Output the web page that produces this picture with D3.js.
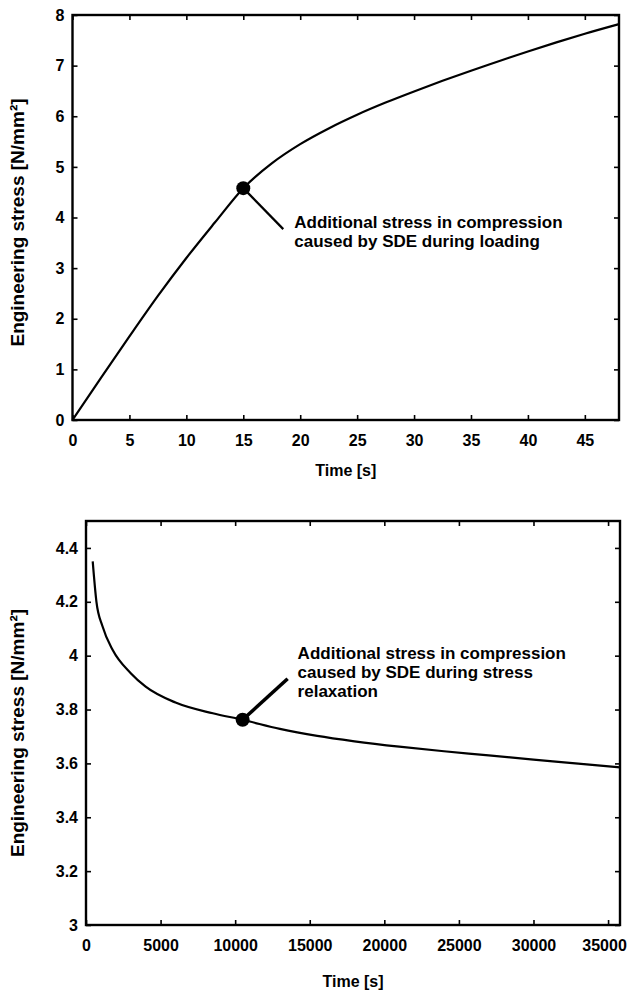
<!DOCTYPE html>
<html>
<head>
<meta charset="utf-8">
<script src="https://cdn.jsdelivr.net/npm/d3@7"></script>
<style>
  body { margin: 0; background: #fff; }
  svg text { font-family: "Liberation Sans", Arial, sans-serif; font-weight: bold; fill: #000; }
</style>
</head>
<body>
<svg id="chart" width="628" height="998"></svg>
<script>
// loading phase (top panel)
const loadTime = [0, 2.5, 5, 7.5, 10, 12.5, 15, 17.5, 20, 22.5, 25, 27.5, 30, 32.5, 35, 37.5, 40, 42.5, 45, 48];
const loadStress = [0, 0.83, 1.65, 2.45, 3.2, 3.9, 4.58, 5.07, 5.45, 5.76, 6.03, 6.27, 6.49, 6.7, 6.9, 7.09, 7.28, 7.46, 7.63, 7.82];
const loadXTicks = [0, 5, 10, 15, 20, 25, 30, 35, 40, 45];
const loadYTicks = [0, 1, 2, 3, 4, 5, 6, 7, 8];
const loadMarker = [15, 4.58];
const loadNote = ["Additional stress in compression", "caused by SDE during loading"];

// relaxation phase (bottom panel)
const relaxTime = [450, 700, 1100, 1800, 3000, 4000, 6000, 8500, 10500, 13000, 15500, 18000, 21000, 24000, 27000, 30000, 33000, 35800];
const relaxStress = [4.35, 4.20, 4.11, 4.02, 3.935, 3.885, 3.826, 3.786, 3.762, 3.728, 3.702, 3.682, 3.662, 3.645, 3.630, 3.614, 3.599, 3.585];
const relaxXTicks = [0, 5000, 10000, 15000, 20000, 25000, 30000, 35000];
const relaxYTicks = [3, 3.2, 3.4, 3.6, 3.8, 4, 4.2, 4.4];
const relaxMarker = [10500, 3.762];
const relaxNote = ["Additional stress in compression", "caused by SDE during stress", "relaxation"];

const svg = d3.select("#chart");

function panel(opt) {
  const x = d3.scaleLinear().domain(opt.xDomain).range([opt.left, opt.right]);
  const y = d3.scaleLinear().domain(opt.yDomain).range([opt.bottom, opt.top]);
  const g = svg.append("g");
  const tick = 5;

  // axes with inward ticks, mirrored on top/right
  const ax = (gen, tr, vals, fmt, pad) => {
    const a = g.append("g").attr("transform", tr)
      .call(gen.tickValues(vals).tickSize(-tick).tickSizeOuter(0)
        .tickPadding(pad).tickFormat(fmt || ""));
    a.select(".domain").remove();
    a.selectAll("line").attr("stroke", "#000").attr("stroke-width", 1.6);
    a.selectAll("text").style("font-size", "16px");
    return a;
  };
  const xa = ax(d3.axisBottom(x), `translate(0,${opt.bottom})`, opt.xTicks, d3.format("d"), 15);
  ax(d3.axisTop(x), `translate(0,${opt.top})`, opt.xTicks, null, 0);
  ax(d3.axisLeft(y), `translate(${opt.left},0)`, opt.yTicks, v => String(v), 8);
  ax(d3.axisRight(y), `translate(${opt.right},0)`, opt.yTicks, null, 0);
  // last label sits against the page edge
  xa.selectAll(".tick text").filter(d => x(d) > 600).attr("dx", -4);

  g.append("rect")
    .attr("x", opt.left).attr("y", opt.top)
    .attr("width", opt.right - opt.left).attr("height", opt.bottom - opt.top)
    .attr("fill", "none").attr("stroke", "#000").attr("stroke-width", 2.4);

  const line = d3.line().x(d => x(d[0])).y(d => y(d[1])).curve(d3.curveMonotoneX);
  g.append("path")
    .datum(d3.zip(opt.xs, opt.ys))
    .attr("d", line)
    .attr("fill", "none").attr("stroke", "#000").attr("stroke-width", 2.2);

  // annotation marker, leader and text
  const mx = x(opt.marker[0]), my = y(opt.marker[1]);
  g.append("line")
    .attr("x1", mx).attr("y1", my)
    .attr("x2", mx + opt.leader[0]).attr("y2", my + opt.leader[1])
    .attr("stroke", "#000").attr("stroke-width", opt.leaderWidth);
  g.append("circle").attr("cx", mx).attr("cy", my).attr("r", 7).attr("fill", "#000");
  g.append("text")
    .attr("x", mx + opt.textAt[0]).attr("y", my + opt.textAt[1])
    .style("font-size", "17px")
    .selectAll("tspan").data(opt.note).join("tspan")
      .attr("x", mx + opt.textAt[0])
      .attr("dy", (d, i) => i ? 19 : 0)
      .text(d => d);

  g.append("text")
    .attr("x", (opt.left + opt.right) / 2).attr("y", opt.bottom + opt.titleGap)
    .attr("text-anchor", "middle").style("font-size", "16px")
    .text("Time [s]");
  g.append("text")
    .attr("transform", `translate(24,${(opt.top + opt.bottom) / 2 + opt.labelShift}) rotate(-90)`)
    .attr("text-anchor", "middle").style("font-size", "19px")
    .text("Engineering stress [N/mm²]");
}

panel({
  xDomain: [0, 48], yDomain: [0, 8],
  left: 72.5, right: 619, top: 15, bottom: 420,
  xTicks: loadXTicks, yTicks: loadYTicks,
  xs: loadTime, ys: loadStress,
  marker: loadMarker, leader: [40, 41], leaderWidth: 2.2,
  textAt: [51, 40], note: loadNote, titleGap: 56, labelShift: 5
});

panel({
  xDomain: [0, 35800], yDomain: [3, 4.5],
  left: 86, right: 620, top: 521, bottom: 925,
  xTicks: relaxXTicks, yTicks: relaxYTicks,
  xs: relaxTime, ys: relaxStress,
  marker: relaxMarker, leader: [45, -41], leaderWidth: 3.6,
  textAt: [55, -61], note: relaxNote, titleGap: 62, labelShift: 10
});
</script>
</body>
</html>
